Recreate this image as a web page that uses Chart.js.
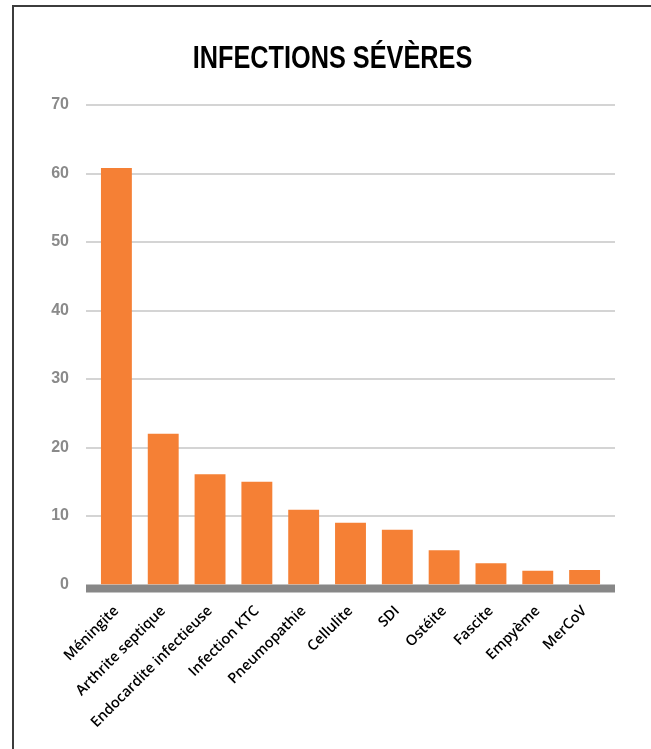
<!DOCTYPE html>
<html>
<head>
<meta charset="utf-8">
<script src="https://cdn.jsdelivr.net/npm/chart.js@4/dist/chart.umd.min.js"></script>
<style>
  html, body { margin: 0; padding: 0; background: #fff; overflow: hidden; }
  #page { position: relative; width: 651px; height: 749px; overflow: hidden; }
  #frame { position: absolute; left: 12px; top: 5px; width: 2000px; height: 2000px;
           border-left: 2px solid #3c3c3c; border-top: 2px solid #3c3c3c; }
  #c { position: absolute; left: 0; top: 0; }
</style>
</head>
<body>
<div id="page">
  <div id="frame"></div>
  <canvas id="c" width="651" height="749"></canvas>
</div>
<script>
// data
const categories = ['Méningite', 'Arthrite septique', 'Endocardite infectieuse', 'Infection KTC',
  'Pneumopathie', 'Cellulite', 'SDI', 'Ostéite', 'Fascite', 'Empyème', 'MerCoV'];
const cases = [60.8, 22, 16.1, 15, 10.9, 9, 8, 5, 3.1, 2, 2.1];
const yTicks = [0, 10, 20, 30, 40, 50, 60, 70];
const chartTitle = 'INFECTIONS SÉVÈRES';

// grid lines run a bit past the bars, plus the thick grey base under them
const gridAndBase = {
  id: 'gridAndBase',
  beforeDatasetsDraw(chart) {
    const { ctx, chartArea: a, scales: { y } } = chart;
    const ext = 7;
    ctx.save();
    ctx.strokeStyle = '#d4d4d4';
    ctx.lineWidth = 2;
    yTicks.forEach(v => {
      if (v === 0) return;
      const py = Math.round(y.getPixelForValue(v));
      ctx.beginPath();
      ctx.moveTo(a.left - ext, py);
      ctx.lineTo(a.right + ext, py);
      ctx.stroke();
    });
    ctx.fillStyle = '#878787';
    ctx.fillRect(a.left - ext, y.getPixelForValue(0), a.width + 2 * ext, 8);
    ctx.restore();
  }
};

// the title font is a condensed bold, so squeeze a normal bold one sideways
const condensedTitle = {
  id: 'condensedTitle',
  afterDraw(chart) {
    const ctx = chart.ctx;
    const squeeze = 0.79;
    ctx.save();
    ctx.font = "bold 32px 'Liberation Sans', Arial, sans-serif";
    ctx.fillStyle = '#000';
    ctx.textAlign = 'center';
    ctx.textBaseline = 'alphabetic';
    ctx.translate(chart.width / 2 + 7, 68);
    ctx.scale(squeeze, 1);
    ctx.fillText(chartTitle, 0, 0);
    ctx.restore();
  }
};

new Chart(document.getElementById('c'), {
  type: 'bar',
  data: {
    labels: categories,
    datasets: [{
      data: cases,
      backgroundColor: '#f58035',
      borderWidth: 0,
      barPercentage: 0.66,
      categoryPercentage: 1
    }]
  },
  options: {
    responsive: false,
    devicePixelRatio: 1,
    animation: false,
    layout: { padding: { left: 0, right: 43, top: 105, bottom: 0 } },
    plugins: {
      legend: { display: false },
      tooltip: { enabled: false },
      title: { display: false }
    },
    scales: {
      x: {
        grid: { display: false },
        border: { display: false },
        ticks: {
          autoSkip: false,
          minRotation: 45,
          maxRotation: 45,
          padding: 10,
          color: '#000',
          font: { family: "'Open Sans', sans-serif", size: 14.5, weight: 600 }
        },
        afterFit: s => { s.height = 164.5; }
      },
      y: {
        min: 0,
        max: 70,
        grid: { display: false, drawTicks: false },
        border: { display: false },
        ticks: {
          stepSize: 10,
          padding: 24,
          color: '#8a8a8a',
          font: { family: "'Liberation Sans', sans-serif", size: 16, weight: 'bold' }
        },
        afterFit: s => { s.width = 93; }
      }
    }
  },
  plugins: [gridAndBase, condensedTitle]
});
</script>
</body>
</html>
